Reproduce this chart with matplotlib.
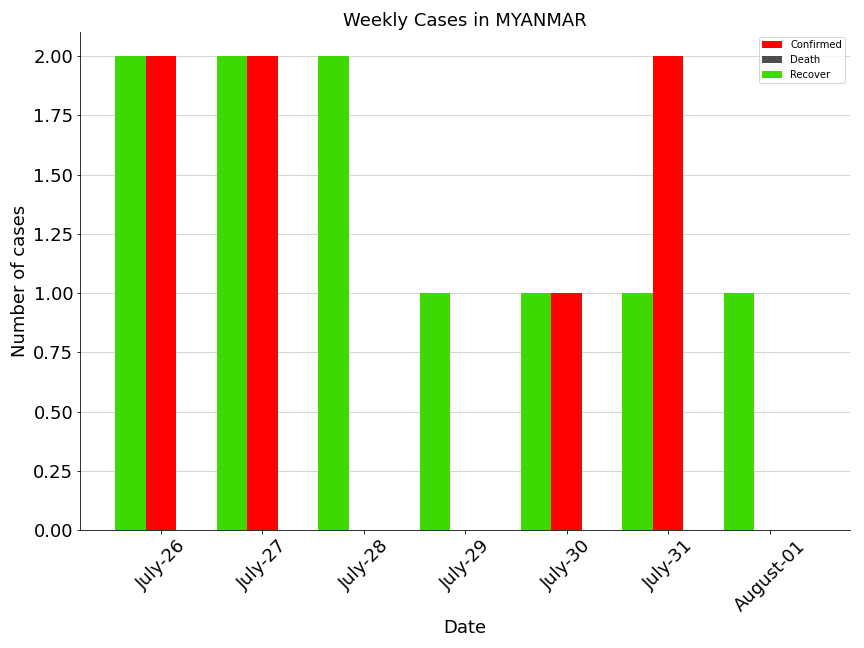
import numpy as np
import matplotlib
matplotlib.use("Agg")
import matplotlib.pyplot as plt

dates = ["July-26", "July-27", "July-28", "July-29", "July-30", "July-31", "August-01"]
confirmed = [2, 2, 0, 0, 1, 2, 0]
deaths = [0, 0, 0, 0, 0, 0, 0]
recovered = [2, 2, 2, 1, 1, 1, 1]

x = np.arange(len(dates))
w = 0.3

fig, ax = plt.subplots(figsize=(12, 9), dpi=72)
ax.bar(x, confirmed, w, color="#ff0000", label="Confirmed", zorder=3)
ax.bar(x + w, deaths, w, color="#4d4d4d", label="Death", zorder=3)
ax.bar(x - w, recovered, w, color="#3dd900", label="Recover", zorder=3)

ax.set_xticks(x)
ax.set_xticklabels(dates, rotation=45, fontsize=18)
ax.tick_params(axis="y", labelsize=18)
ax.set_xlabel("Date", fontsize=18)
ax.set_ylabel("Number of cases", fontsize=18)
ax.set_title("Weekly Cases in MYANMAR", fontsize=18)
ax.yaxis.grid(True, color="#cccccc", zorder=0)
ax.spines["top"].set_visible(False)
ax.spines["right"].set_visible(False)
ax.legend(loc="upper right", fontsize=10, borderpad=0.3, handlelength=2.0)

plt.subplots_adjust(left=0.093, right=0.984, top=0.95, bottom=0.182)
plt.savefig("out.png", dpi=72)
